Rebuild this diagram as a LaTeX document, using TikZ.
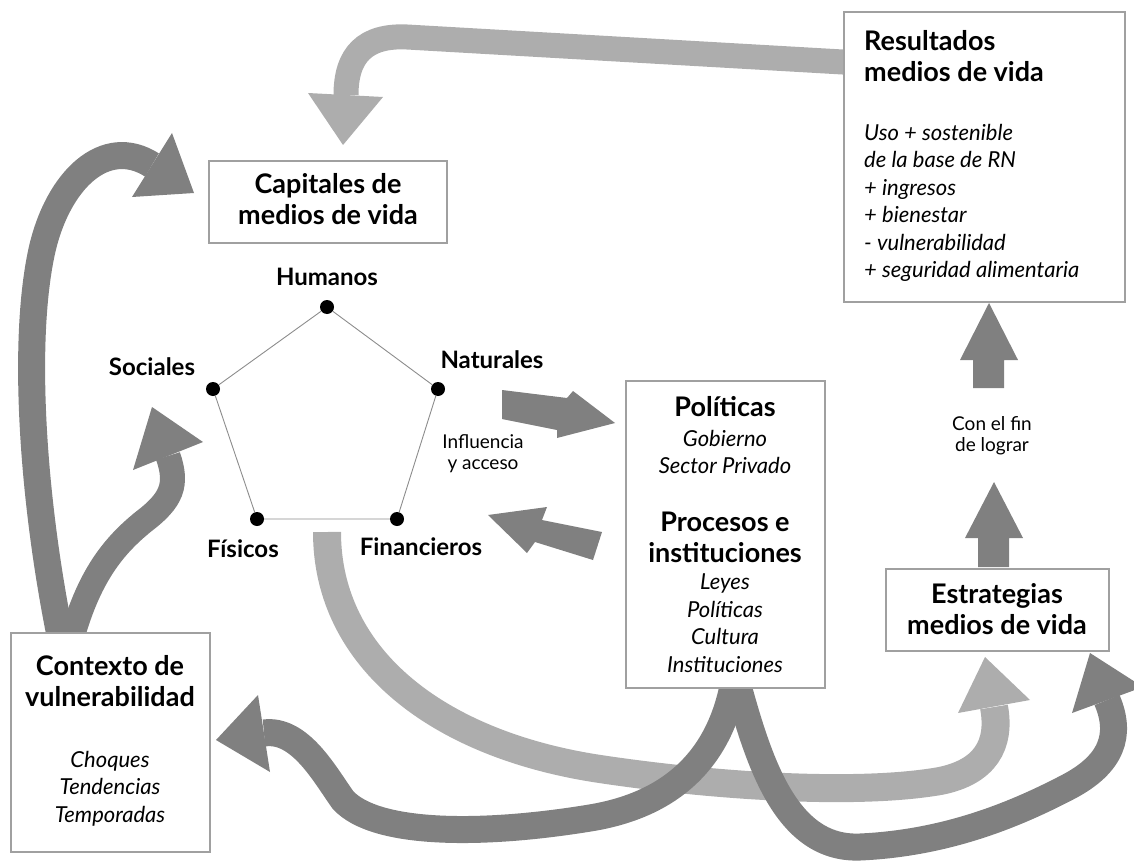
\documentclass[tikz,border=0pt]{standalone}
\usepackage{fontspec}
\setmainfont{Lato}
\definecolor{darkg}{HTML}{808080}
\definecolor{lightg}{HTML}{ADADAD}
\definecolor{boxgray}{HTML}{A0A0A0}
\definecolor{linegray}{HTML}{8C8C8C}
\pgfdeclarelayer{bg}
\pgfsetlayers{bg,main}
\begin{document}
\begin{tikzpicture}[x=1pt,y=-1pt,
  box/.style={draw=boxgray, line width=1.2pt, fill=white, inner sep=0, outer sep=0},
  title/.style={font=\bfseries\fontsize{27}{31}\selectfont, inner sep=0, align=center},
  ital/.style={font=\itshape\fontsize{22}{27.5}\selectfont, inner sep=0, align=center},
  lab/.style={font=\bfseries\fontsize{24}{28}\selectfont, inner sep=0},
  note/.style={font=\fontsize{19}{21}\selectfont, inner sep=0, align=center},
  dot/.style={circle, fill=black, minimum size=14pt, inner sep=0},
  pent/.style={draw=linegray, line width=0.9pt},
  darkband/.style={draw=darkg, line width=27pt},
  lightband/.style={draw=lightg, line width=28pt},
  blockarrow/.style={fill=darkg},
]
\useasboundingbox (0,0) rectangle (1134,861);

% ---------- boxes ----------
\node[box, minimum width=238pt, minimum height=82pt] (capbox) at (328,202) {};
\node[box, minimum width=281pt, minimum height=290pt] (resbox) at (984.5,157) {};
\node[box, minimum width=199pt, minimum height=307pt] (polbox) at (725.5,534.5) {};
\node[box, minimum width=223pt, minimum height=82pt] (estbox) at (997.5,610) {};
\node[box, minimum width=199pt, minimum height=219pt] (conbox) at (110.5,742.5) {};

% ---------- box texts ----------
\node[title, anchor=north] (capT) at (328,173) {Capitales de\\medios de vida};
\node[title, anchor=north west, align=left] (resT) at (864,30) {Resultados\\medios de vida};
\node[ital, anchor=north west, align=left] (resL) at (864,124) {Uso + sostenible\\de la base de RN\\+ ingresos\\+ bienestar\\- vulnerabilidad\\+ seguridad alimentaria};
\node[title, anchor=north] (polT) at (725,396) {Políticas};
\node[ital, anchor=north] (polL) at (725,430) {Gobierno\\Sector Privado};
\node[title, anchor=north] (proT) at (725,512) {Procesos e\\instituciones};
\node[ital, anchor=north] (proL) at (725,574) {Leyes\\Políticas\\Cultura\\Instituciones};
\node[title, anchor=north] (estT) at (997,583) {Estrategias\\medios de vida};
\node[title, anchor=north] (conT) at (110,655) {Contexto de\\vulnerabilidad};
\node[ital, anchor=north] (conL) at (110,751) {Choques\\Tendencias\\Temporadas};

% ---------- pentagon ----------
\node[dot] (hum) at (327,307) {};
\node[dot] (soc) at (213,389) {};
\node[dot] (nat) at (438,389) {};
\node[dot] (fis) at (257,519) {};
\node[dot] (fnc) at (397,519) {};
\draw[pent] (hum) -- (nat) -- (fnc) -- (fis) -- (soc) -- (hum);

\node[lab, anchor=base] (humL) at (327,285) {Humanos};
\node[lab, anchor=base] (socL) at (152,375) {Sociales};
\node[lab, anchor=base] (natL) at (492,368) {Naturales};
\node[lab, anchor=base] (fisL) at (243,557) {Físicos};
\node[lab, anchor=base] (finL) at (421,555) {Financieros};

\node[note, anchor=north] (infl) at (483,434) {Influencia\\y acceso};
\node[note, anchor=north] (confin) at (992,416) {Con el fin\\de lograr};

% ---------- straight block arrows ----------
\fill[blockarrow] (502,390) -- (567,398) -- (573,391) -- (615,423) -- (557,438) -- (557,430) -- (502,419) -- cycle;
\fill[blockarrow] (488,515) -- (547,507) -- (542,520) -- (602,532) -- (593,560) -- (535,542) -- (527,553) -- cycle;
\fill[blockarrow] (973,388) -- (973,360) -- (960,360) -- (989,303) -- (1018,360) -- (1004,360) -- (1004,388) -- cycle;
\fill[blockarrow] (978,567) -- (978,538) -- (965,538) -- (994,482) -- (1023,538) -- (1009,538) -- (1009,567) -- cycle;

% ---------- curved bands ----------
\coordinate (lbstart) at (327,532);
\begin{pgfonlayer}{bg}
  % Resultados -> Capitales (light)
  \draw[lightband, line width=25pt] ([shift={(16,51)}]resbox.north west) -- (407,37)
     .. controls (365,35) and (346,55) .. (346,95);
  \fill[lightg] (308,93) -- (343,145) -- (383,97) -- cycle;

  % Contexto -> Capitales (dark, long)
  \draw[darkband] ([shift={(51,12)}]conbox.north west)
     .. controls (32,500) and (22,340) .. (42,250)
     .. controls (58,180) and (105,135) .. (152,165);
  \fill[darkg] (172,133) -- (194,193) -- (132,197) -- cycle;

  % Contexto -> Sociales (dark, short)
  \draw[darkband, line width=25pt] ([shift={(59,12)}]conbox.north west)
     .. controls (88,575) and (115,545) .. (143,522)
     .. controls (172,500) and (178,485) .. (168,456);
  \fill[darkg] (133,470) -- (152,407) -- (203,442) -- cycle;

  % capitales -> Estrategias (light)
  \draw[lightband] (lbstart)
     .. controls (327,660) and (440,745) .. (600,769)
     .. controls (720,787) and (860,795) .. (940,781)
     .. controls (985,772) and (1001,745) .. (994,707);
  \fill[lightg] (958,713) -- (985,657) -- (1030,700) -- cycle;

  % Politicas -> Contexto (dark)
  \draw[darkband] ([shift={(9.5,-13)}]polbox.south)
     .. controls (722,760) and (670,805) .. (590,818)
     .. controls (480,836) and (375,835) .. (343,800)
     .. controls (325,775) and (300,728) .. (264,733);
  \fill[darkg] (258,695) -- (216,740) -- (270,772) -- cycle;

  % Politicas -> Estrategias (dark)
  \draw[darkband] ([shift={(9.5,-13)}]polbox.south)
     .. controls (758,760) and (785,850) .. (860,847)
     .. controls (950,843) and (1020,812) .. (1068,787)
     .. controls (1112,764) and (1122,735) .. (1107,700);
  \fill[darkg] (1072,713) -- (1090,653) -- (1134,681.2) -- (1134,690.3) -- cycle;
\end{pgfonlayer}
\end{tikzpicture}
\end{document}
